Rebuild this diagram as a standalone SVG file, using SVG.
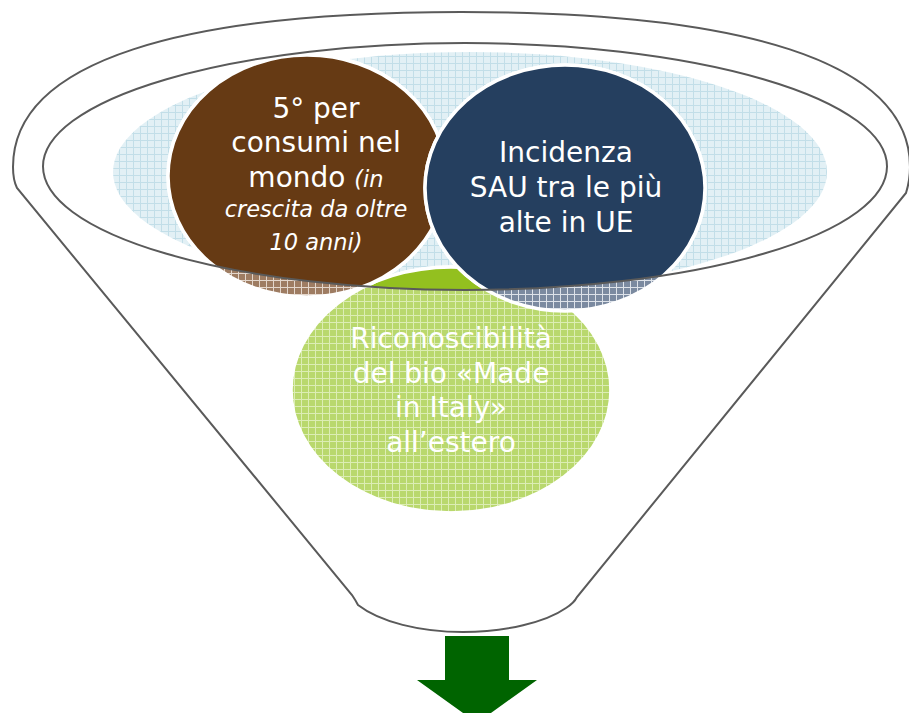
<svg xmlns="http://www.w3.org/2000/svg" width="909" height="713" viewBox="0 0 909 713">
<style>
.line{fill:none;stroke:#5a5a5a;stroke-width:2}
.ring{stroke:#ffffff;stroke-width:3.5}
.t{font-family:"DejaVu Sans","Open Sans",sans-serif;font-size:28px;fill:#ffffff;text-anchor:middle}
.it{font-style:italic;font-size:22.5px}
</style>
<defs>
<pattern id="pBlue" patternUnits="userSpaceOnUse" width="7" height="7">
<rect width="7" height="7" fill="#e2f0f5"/>
<path d="M0 0.5H7M0.5 0V7" stroke="#c2dee8" stroke-width="1"/>
</pattern>
<pattern id="pBrown" patternUnits="userSpaceOnUse" width="7" height="7">
<rect width="7" height="7" fill="#9e7c62"/>
<path d="M0 0.5H7M0.5 0V7" stroke="#e3d6cb" stroke-width="1"/>
</pattern>
<pattern id="pNavy" patternUnits="userSpaceOnUse" width="7" height="7">
<rect width="7" height="7" fill="#7b8aa0"/>
<path d="M0 0.5H7M0.5 0V7" stroke="#dde2e9" stroke-width="1"/>
</pattern>
<pattern id="pGreen" patternUnits="userSpaceOnUse" width="7" height="7">
<rect width="7" height="7" fill="#b9d86d"/>
<path d="M0 0.5H7M0.5 0V7" stroke="#dcedb4" stroke-width="1"/>
</pattern>
<clipPath id="inner">
<ellipse cx="465" cy="166.5" rx="422" ry="123.5"/>
</clipPath>
</defs>
<rect width="909" height="713" fill="#ffffff"/>
<g id="background">
<ellipse cx="470" cy="172" rx="357" ry="120" fill="url(#pBlue)"/>
</g>
<g id="node-green">
<ellipse cx="451" cy="390" rx="160" ry="123" fill="url(#pGreen)" class="ring"/>
<ellipse cx="451" cy="390" rx="160" ry="123" fill="#93c01f" class="ring" clip-path="url(#inner)"/>
</g>
<g id="node-brown">
<ellipse cx="307" cy="176" rx="139" ry="121" fill="url(#pBrown)" class="ring"/>
<ellipse cx="307" cy="176" rx="139" ry="121" fill="#663a14" class="ring" clip-path="url(#inner)"/>
</g>
<g id="node-navy">
<ellipse cx="565" cy="188" rx="140" ry="123" fill="url(#pNavy)" class="ring"/>
<ellipse cx="565" cy="188" rx="140" ry="123" fill="#253f5f" class="ring" clip-path="url(#inner)"/>
</g>
<g id="funnel">
<ellipse class="line" cx="465" cy="166.5" rx="422" ry="123.5"/>
<path class="line" d="M17 188 Q13 180 13 167 C13 60 184 12 461.5 12 C739 12 910 60 910 167 Q910 180 906 193 L577 597 Q574 603 566 608 C546 622 506 632 463 632 C420 632 380 622 358 605 Q356 601 352 595 Z"/>
</g>
<g id="labels">
<text class="t" x="316" y="118">5° per</text>
<text class="t" x="316" y="152">consumi nel</text>
<text class="t" x="316" y="187">mondo <tspan class="it">(in</tspan></text>
<text class="t it" x="316" y="217">crescita da oltre</text>
<text class="t it" x="316" y="250">10 anni)</text>
<text class="t" x="566" y="162">Incidenza</text>
<text class="t" x="566" y="197">SAU tra le più</text>
<text class="t" x="566" y="232">alte in UE</text>
<text class="t" x="451" y="348">Riconoscibilità</text>
<text class="t" x="451" y="383">del bio «Made</text>
<text class="t" x="451" y="417">in Italy»</text>
<text class="t" x="451" y="452">all’estero</text>
</g>
<g id="connectors">
<path d="M445 636H509V680H537L477 723L417 680H445Z" fill="#006400"/>
</g>
</svg>
